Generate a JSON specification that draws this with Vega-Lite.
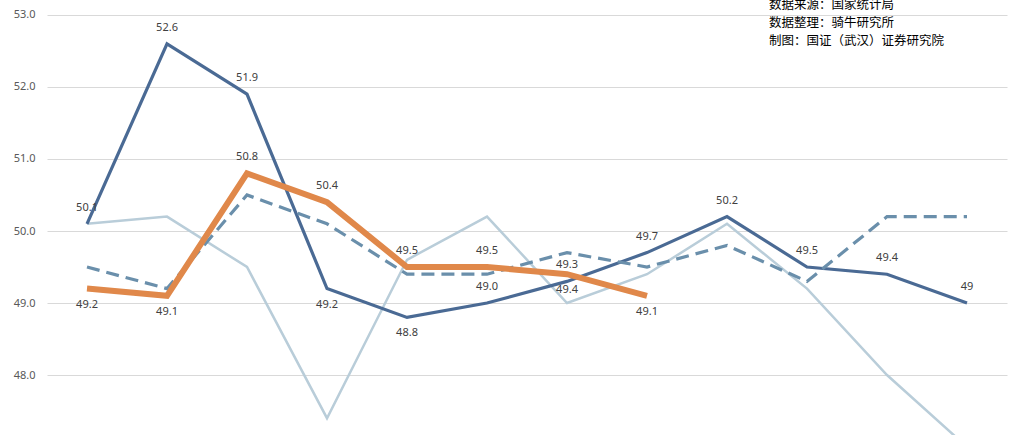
{
  "$schema": "https://vega.github.io/schema/vega-lite/v6.json",
  "description": "China manufacturing PMI by month, 2019 / 2022 / 2023 / 2024",
  "width": 960,
  "height": 435,
  "autosize": "none",
  "padding": {"left": 47, "top": 0, "right": 15, "bottom": 0},
  "background": "white",
  "title": {
    "text": ["数据来源：国家统计局", "数据整理：骑牛研究所", "制图：国证（武汉）证券研究院"],
    "orient": "top",
    "frame": "group",
    "anchor": "start",
    "align": "left",
    "dx": 722,
    "offset": -47,
    "font": "Noto Sans CJK SC",
    "fontSize": 12.5,
    "fontWeight": "normal",
    "lineHeight": 18,
    "color": "#000000"
  },
  "config": {
    "view": {"stroke": null}
  },
  "data": {
    "values": [
      {"month": 1, "series": "2022", "value": 50.1},
      {"month": 2, "series": "2022", "value": 50.2},
      {"month": 3, "series": "2022", "value": 49.5},
      {"month": 4, "series": "2022", "value": 47.4},
      {"month": 5, "series": "2022", "value": 49.6},
      {"month": 6, "series": "2022", "value": 50.2},
      {"month": 7, "series": "2022", "value": 49.0},
      {"month": 8, "series": "2022", "value": 49.4},
      {"month": 9, "series": "2022", "value": 50.1},
      {"month": 10, "series": "2022", "value": 49.2},
      {"month": 11, "series": "2022", "value": 48.0},
      {"month": 12, "series": "2022", "value": 47.0},
      {"month": 1, "series": "2023", "value": 50.1},
      {"month": 2, "series": "2023", "value": 52.6},
      {"month": 3, "series": "2023", "value": 51.9},
      {"month": 4, "series": "2023", "value": 49.2},
      {"month": 5, "series": "2023", "value": 48.8},
      {"month": 6, "series": "2023", "value": 49.0},
      {"month": 7, "series": "2023", "value": 49.3},
      {"month": 8, "series": "2023", "value": 49.7},
      {"month": 9, "series": "2023", "value": 50.2},
      {"month": 10, "series": "2023", "value": 49.5},
      {"month": 11, "series": "2023", "value": 49.4},
      {"month": 12, "series": "2023", "value": 49.0},
      {"month": 1, "series": "2019", "value": 49.5},
      {"month": 2, "series": "2019", "value": 49.2},
      {"month": 3, "series": "2019", "value": 50.5},
      {"month": 4, "series": "2019", "value": 50.1},
      {"month": 5, "series": "2019", "value": 49.4},
      {"month": 6, "series": "2019", "value": 49.4},
      {"month": 7, "series": "2019", "value": 49.7},
      {"month": 8, "series": "2019", "value": 49.5},
      {"month": 9, "series": "2019", "value": 49.8},
      {"month": 10, "series": "2019", "value": 49.3},
      {"month": 11, "series": "2019", "value": 50.2},
      {"month": 12, "series": "2019", "value": 50.2},
      {"month": 1, "series": "2024", "value": 49.2},
      {"month": 2, "series": "2024", "value": 49.1},
      {"month": 3, "series": "2024", "value": 50.8},
      {"month": 4, "series": "2024", "value": 50.4},
      {"month": 5, "series": "2024", "value": 49.5},
      {"month": 6, "series": "2024", "value": 49.5},
      {"month": 7, "series": "2024", "value": 49.4},
      {"month": 8, "series": "2024", "value": 49.1}
    ]
  },
  "encoding": {
    "x": {
      "field": "month",
      "type": "ordinal",
      "scale": {"type": "point", "padding": 0.5},
      "axis": null
    },
    "y": {
      "field": "value",
      "type": "quantitative",
      "scale": {"domain": [47.1667, 53.2083], "nice": false, "zero": false},
      "axis": {
        "title": null,
        "values": [48, 49, 50, 51, 52, 53],
        "format": ".1f",
        "domain": false,
        "ticks": false,
        "grid": true,
        "gridColor": "#d9d9d9",
        "gridWidth": 1,
        "labelColor": "#595959",
        "labelFont": "Noto Sans",
        "labelFontSize": 11,
        "labelPadding": 12
      }
    }
  },
  "layer": [
    {
      "transform": [{"filter": "datum.series == '2022'"}],
      "mark": {"type": "line", "clip": true, "color": "#b9cdd9", "strokeWidth": 2.5},
      "encoding": {}
    },
    {
      "transform": [{"filter": "datum.series == '2023'"}],
      "mark": {"type": "line", "clip": true, "color": "#4a6a94", "strokeWidth": 3.2},
      "encoding": {}
    },
    {
      "transform": [{"filter": "datum.series == '2019'"}],
      "mark": {"type": "line", "clip": true, "color": "#6a8fab", "strokeWidth": 3.2, "strokeDash": [13, 7]},
      "encoding": {}
    },
    {
      "transform": [{"filter": "datum.series == '2024'"}],
      "mark": {"type": "line", "clip": true, "color": "#e0884a", "strokeWidth": 6},
      "encoding": {}
    },
    {
      "transform": [
        {"filter": "(datum.series == '2023' && datum.month != 4 && datum.month != 5) || (datum.series == '2024' && indexof([3, 4, 5, 6], datum.month) >= 0)"}
      ],
      "mark": {"type": "text", "dy": -16, "font": "Noto Sans", "fontSize": 11, "color": "#404040"},
      "encoding": {
        "text": {
          "condition": {"test": "datum.series == '2023' && datum.month == 12", "value": "49"},
          "field": "value",
          "format": ".1f"
        }
      }
    },
    {
      "transform": [
        {"filter": "(datum.series == '2023' && (datum.month == 4 || datum.month == 5)) || (datum.series == '2024' && indexof([1, 2, 7, 8], datum.month) >= 0)"}
      ],
      "mark": {"type": "text", "dy": 16, "font": "Noto Sans", "fontSize": 11, "color": "#404040"},
      "encoding": {
        "text": {"field": "value", "format": ".1f"}
      }
    }
  ]
}
